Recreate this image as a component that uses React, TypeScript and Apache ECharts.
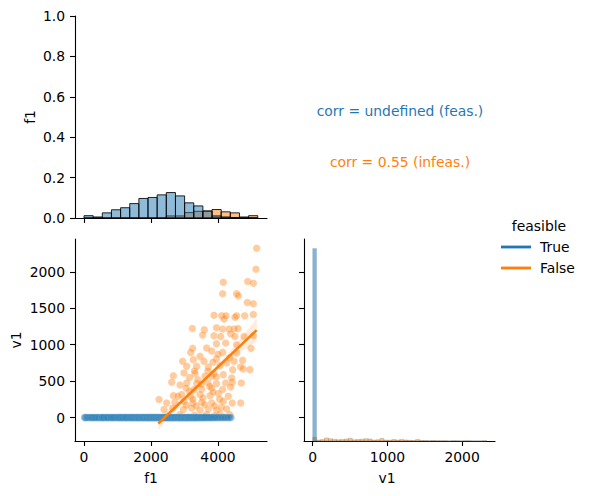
import React, { useEffect, useRef } from "react";
import * as echarts from "echarts";

const BLUE = "#1f77b4";
const ORANGE = "#ff7f0e";
const FONT = "DejaVu Sans";

// f1 histogram (19 bins from 0 to ~5185)
const F1_BIN_WIDTH = 273;
const F1_BLUE_COUNTS = [9, 4, 20, 32, 40, 56, 76, 80, 90, 99, 86, 59, 47, 27, 8, 4, 2, 0, 0];
const F1_ORANGE_COUNTS = [0, 0, 0, 0, 0, 0, 0, 0, 0, 8, 8, 21, 26, 27, 33, 24, 20, 4, 9];

// v1 histogram (44 bins from 0 to ~2332)
const V1_BIN_WIDTH = 53;
const V1_BLUE_COUNTS = [749, 0, 0, 0, 0, 0, 0, 0, 0, 0, 0, 0, 0, 0, 0, 0, 0, 0, 0, 0, 0, 0, 0, 0, 0, 0, 0, 0, 0, 0, 0, 0, 0, 0, 0, 0, 0, 0, 0, 0, 0, 0, 0, 0];
const V1_ORANGE_COUNTS = [14, 4, 6, 12, 9, 7, 5, 6, 8, 11, 5, 6, 7, 9, 8, 4, 5, 10, 4, 3, 6, 4, 6, 4, 3, 2, 6, 2, 2, 1, 2, 1, 1, 1, 0, 1, 1, 0, 1, 1, 0, 0, 0, 1];
const HIST_COUNT_MAX = 786;

// scatter: feasible (v1 = 0)
const BLUE_F1 = [
  15, 40, 60, 100, 140, 180, 210, 240, 260, 300, 330, 360, 390, 420, 450, 490, 520, 545, 560, 590, 610, 650, 680, 700, 720, 760, 790, 810,
  830, 860, 880, 910, 940, 970, 990, 1020, 1040, 1060, 1080, 1110, 1130, 1150, 1170, 1200, 1220, 1240, 1260, 1280, 1300, 1330, 1350, 1370,
  1390, 1410, 1430, 1450, 1470, 1490, 1510, 1530, 1550, 1570, 1590, 1605, 1620, 1640, 1660, 1680, 1700, 1720, 1740, 1755, 1770, 1790, 1810,
  1830, 1850, 1865, 1880, 1900, 1920, 1935, 1950, 1970, 1990, 2005, 2020, 2040, 2060, 2075, 2090, 2110, 2130, 2145, 2160, 2180, 2200, 2215,
  2230, 2250, 2270, 2285, 2300, 2320, 2340, 2355, 2370, 2390, 2410, 2425, 2440, 2460, 2480, 2495, 2510, 2530, 2550, 2565, 2580, 2600, 2620,
  2635, 2650, 2670, 2690, 2705, 2720, 2740, 2760, 2780, 2800, 2815, 2830, 2850, 2870, 2885, 2900, 2920, 2940, 2960, 2980, 2995, 3010, 3030,
  3050, 3070, 3090, 3105, 3120, 3140, 3160, 3180, 3200, 3220, 3240, 3260, 3280, 3300, 3320, 3340, 3360, 3380, 3400, 3425, 3450, 3470, 3490,
  3515, 3540, 3565, 3590, 3615, 3640, 3670, 3700, 3730, 3760, 3790, 3820, 3855, 3890, 3925, 3960, 4000, 4040, 4080, 4120, 4165, 4210, 4255,
  4300, 4345, 4390,
];
const BLUE_V1 = BLUE_F1.map(() => 0);

// scatter: infeasible
const ORANGE_PTS: [number, number][] = [
  [5154, 2324], [5134, 2037], [4159, 1858], [4886, 1868], [5055, 1845], [4139, 1699], [4557, 1699], [4607, 1671],
  [4876, 1580], [5055, 1562], [3881, 1406], [4109, 1397], [4179, 1352], [4239, 1397], [4557, 1397], [4796, 1397],
  [5055, 1416], [4507, 1379], [3234, 1224], [3955, 1233], [3592, 1205], [4139, 1215], [4328, 1215], [4478, 1215],
  [4597, 1224], [3542, 1132], [3881, 1123], [4080, 1114], [4378, 1151], [4507, 1114], [4776, 1114], [5055, 1123],
  [3244, 950], [3662, 954], [3955, 1014], [4229, 1023], [4557, 1000], [4985, 950], [3184, 895], [3463, 840],
  [3811, 913], [4139, 895], [2945, 772], [3264, 795], [3582, 772], [3955, 804], [4259, 749], [4478, 772],
  [4736, 785], [3363, 703], [3711, 694], [4060, 712], [4438, 658], [4756, 667], [4955, 658], [2667, 575],
  [2985, 612], [3313, 603], [3612, 566], [3881, 603], [4159, 589], [2617, 484], [2866, 447], [3065, 475],
  [3363, 466], [3692, 484], [3955, 466], [4229, 475], [4428, 484], [4697, 475], [3045, 406], [3284, 384],
  [3512, 393], [3811, 406], [4139, 384], [4378, 420], [2667, 301], [2915, 315], [3184, 292], [3463, 315],
  [3762, 301], [4010, 329], [4308, 292], [2239, 247], [2468, 201], [2716, 210], [2985, 224], [3244, 201],
  [3512, 210], [3811, 201], [4159, 224], [4428, 201], [4677, 201], [2388, 110], [2647, 132], [2965, 110],
  [3214, 132], [3463, 100], [3711, 119], [3960, 100], [4259, 119], [2866, 41], [3662, 41], [4060, 50],
  [3065, 703], [2806, 292], [3811, 566], [4557, 886], [4677, 694], [4408, 543],
  [2500, 20], [2900, 10], [3300, 30], [3600, 15], [3900, 25], [4200, 5], [4350, 40],
  [3150, 550], [3400, 520], [3700, 640], [3950, 560], [3250, 250], [3550, 270], [3850, 350], [4050, 250],
  [3350, 160], [3600, 180], [3900, 160], [4100, 140], [3050, 170], [3750, 430], [3500, 460], [3150, 360],
  [3300, 640], [3850, 760], [4000, 870], [4350, 820],
];

// regression line and confidence band (infeasible)
const REG_F1 = [2219, 5154];
const REG_V1 = [-82, 1201];
const BAND_F1 = [2219, 2700, 3200, 3700, 4200, 4700, 5154];
const BAND_LO = [-172, 73, 315, 538, 739, 908, 1041];
const BAND_HI = [8, 183, 379, 594, 829, 1098, 1361];

const F1_TICKS = [0, 2000, 4000];
const V1_TICKS = [0, 500, 1000, 1500, 2000];
const V1_X_TICKS = [0, 1000, 2000];

const histItem = (fill: string, stroke: string, lw: number) => (params: any, api: any) => {
  const x0 = api.value(0);
  const x1 = api.value(1);
  const c = api.value(2);
  const p0 = api.coord([x0, c]);
  const p1 = api.coord([x1, 0]);
  return {
    type: "rect",
    shape: { x: p0[0], y: p0[1], width: p1[0] - p0[0], height: p1[1] - p0[1] },
    style: { fill, stroke, lineWidth: lw },
  };
};

const plain = (v: number) => String(v);

const axisBase = {
  axisLine: { show: true, onZero: false, lineStyle: { color: "#000", width: 1.1 } },
  axisTick: { show: true, length: 5, lineStyle: { color: "#000", width: 1.1 } },
  splitLine: { show: false },
  axisLabel: { color: "#000", fontSize: 13.9, fontFamily: FONT, margin: 9, formatter: plain },
};

export default function App() {
  const ref = useRef<HTMLDivElement>(null);
  useEffect(() => {
    if (!ref.current) return;
    const chart = echarts.init(ref.current, null, { renderer: "svg" });
    const f1Blue = F1_BLUE_COUNTS.map((c, i) => [i * F1_BIN_WIDTH, (i + 1) * F1_BIN_WIDTH, c]);
    const f1Orange = F1_ORANGE_COUNTS.map((c, i) => [i * F1_BIN_WIDTH, (i + 1) * F1_BIN_WIDTH, c]);
    const v1Blue = V1_BLUE_COUNTS.map((c, i) => [i * V1_BIN_WIDTH, (i + 1) * V1_BIN_WIDTH, c]);
    const v1Orange = V1_ORANGE_COUNTS.map((c, i) => [i * V1_BIN_WIDTH, (i + 1) * V1_BIN_WIDTH, c]);

    const option: any = {
      animation: false,
      backgroundColor: "#fff",
      grid: [
        { left: 75, top: 16, width: 192, height: 202 },
        { left: 75, top: 239, width: 192, height: 202 },
        { left: 304, top: 239, width: 191, height: 202 },
      ],
      xAxis: [
        {
          ...axisBase, gridIndex: 0, type: "value", min: -269, max: 5463,
          axisTick: { ...axisBase.axisTick, customValues: F1_TICKS },
          axisLabel: { show: false },
        },
        {
          ...axisBase, gridIndex: 1, type: "value", min: -269, max: 5463,
          axisTick: { ...axisBase.axisTick, customValues: F1_TICKS },
          axisLabel: { ...axisBase.axisLabel, customValues: F1_TICKS },
        },
        {
          ...axisBase, gridIndex: 2, type: "value", min: -116, max: 2440,
          axisTick: { ...axisBase.axisTick, customValues: V1_X_TICKS },
          axisLabel: { ...axisBase.axisLabel, customValues: V1_X_TICKS },
        },
      ],
      yAxis: [
        {
          ...axisBase, gridIndex: 0, type: "value", min: 0, max: 1, interval: 0.2,
          axisLabel: { ...axisBase.axisLabel, margin: 10, formatter: (v: number) => v.toFixed(1) },
        },
        { gridIndex: 0, type: "value", min: 0, max: HIST_COUNT_MAX, show: false },
        {
          ...axisBase, gridIndex: 1, type: "value", min: -322, max: 2452,
          axisTick: { ...axisBase.axisTick, customValues: V1_TICKS },
          axisLabel: { ...axisBase.axisLabel, margin: 10, customValues: V1_TICKS },
        },
        {
          ...axisBase, gridIndex: 2, type: "value", min: -322, max: 2452,
          axisTick: { ...axisBase.axisTick, customValues: V1_TICKS },
          axisLabel: { show: false },
        },
        { gridIndex: 2, type: "value", min: 0, max: HIST_COUNT_MAX, show: false },
      ],
      series: [
        {
          type: "custom", xAxisIndex: 0, yAxisIndex: 1, data: f1Orange,
          encode: { x: [0, 1], y: 2 },
          renderItem: histItem("rgba(255,127,14,0.5)", "rgba(0,0,0,0.85)", 1),
        },
        {
          type: "custom", xAxisIndex: 0, yAxisIndex: 1, data: f1Blue,
          encode: { x: [0, 1], y: 2 },
          renderItem: histItem("rgba(31,119,180,0.5)", "rgba(0,0,0,0.85)", 1),
        },
        {
          type: "custom", xAxisIndex: 2, yAxisIndex: 4, data: v1Orange,
          encode: { x: [0, 1], y: 2 },
          renderItem: histItem("rgba(255,127,14,0.5)", "rgba(90,90,90,0.35)", 0.6),
        },
        {
          type: "custom", xAxisIndex: 2, yAxisIndex: 4, data: v1Blue,
          encode: { x: [0, 1], y: 2 },
          renderItem: histItem("rgba(31,119,180,0.55)", "rgba(120,120,120,0.3)", 0.6),
        },
        {
          type: "custom", xAxisIndex: 1, yAxisIndex: 2, data: [[BAND_F1[0], BAND_LO[0]]],
          encode: { x: 0, y: 1 },
          renderItem: (params: any, api: any) => {
            const pts: number[][] = [];
            BAND_F1.forEach((x, i) => pts.push(api.coord([x, BAND_HI[i]])));
            for (let i = BAND_F1.length - 1; i >= 0; i--) pts.push(api.coord([BAND_F1[i], BAND_LO[i]]));
            return { type: "polygon", shape: { points: pts }, style: { fill: "rgba(255,127,14,0.15)" } };
          },
          z: 1,
        },
        {
          type: "scatter", xAxisIndex: 1, yAxisIndex: 2, data: ORANGE_PTS,
          symbolSize: 7.5,
          itemStyle: { color: "rgba(255,127,14,0.5)", borderColor: "rgba(255,255,255,0.5)", borderWidth: 0.5 },
          z: 2,
        },
        {
          type: "scatter", xAxisIndex: 1, yAxisIndex: 2, data: BLUE_F1.map((x, i) => [x, BLUE_V1[i]]),
          symbolSize: 7.5,
          itemStyle: { color: "rgba(31,119,180,0.5)", borderColor: "rgba(255,255,255,0.3)", borderWidth: 0.5 },
          z: 3,
        },
        {
          type: "line", xAxisIndex: 1, yAxisIndex: 2, data: REG_F1.map((x, i) => [x, REG_V1[i]]),
          showSymbol: false, symbol: "none",
          lineStyle: { color: ORANGE, width: 2.5 },
          z: 4,
        },
      ],
      graphic: [
        { type: "text", x: 30, y: 117, rotation: Math.PI / 2, style: { text: "f1", font: `13.9px "${FONT}"`, fill: "#000", align: "center", verticalAlign: "middle" } },
        { type: "text", x: 16, y: 340, rotation: Math.PI / 2, style: { text: "v1", font: `13.9px "${FONT}"`, fill: "#000", align: "center", verticalAlign: "middle" } },
        { type: "text", x: 151, y: 478, style: { text: "f1", font: `13.9px "${FONT}"`, fill: "#000", align: "center", verticalAlign: "middle" } },
        { type: "text", x: 387, y: 478, style: { text: "v1", font: `13.9px "${FONT}"`, fill: "#000", align: "center", verticalAlign: "middle" } },
        { type: "text", x: 400, y: 111, style: { text: "corr = undefined (feas.)", font: `13.9px "${FONT}"`, fill: BLUE, align: "center", verticalAlign: "middle" } },
        { type: "text", x: 400, y: 162, style: { text: "corr = 0.55 (infeas.)", font: `13.9px "${FONT}"`, fill: ORANGE, align: "center", verticalAlign: "middle" } },
        { type: "text", x: 539, y: 226, style: { text: "feasible", font: `13.9px "${FONT}"`, fill: "#000", align: "center", verticalAlign: "middle" } },
        { type: "line", shape: { x1: 501, y1: 247, x2: 531, y2: 247 }, style: { stroke: BLUE, lineWidth: 2.8 } },
        { type: "text", x: 540, y: 247, style: { text: "True", font: `13.9px "${FONT}"`, fill: "#000", align: "left", verticalAlign: "middle" } },
        { type: "line", shape: { x1: 501, y1: 268, x2: 531, y2: 268 }, style: { stroke: ORANGE, lineWidth: 2.8 } },
        { type: "text", x: 540, y: 268, style: { text: "False", font: `13.9px "${FONT}"`, fill: "#000", align: "left", verticalAlign: "middle" } },
      ],
    };
    chart.setOption(option);
    return () => chart.dispose();
  }, []);
  return <div ref={ref} style={{ position: "fixed", left: 0, top: 0, width: 589, height: 496 }} />;
}
